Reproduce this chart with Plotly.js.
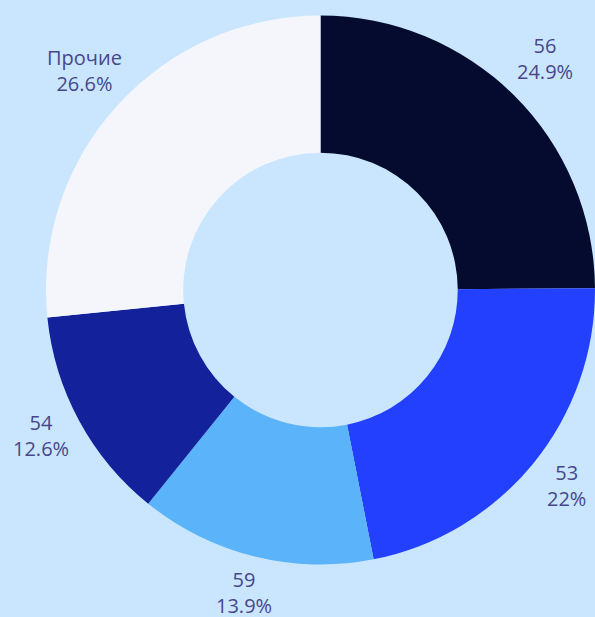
<!DOCTYPE html>
<html>
<head>
<meta charset="utf-8">
<script src="https://cdn.plot.ly/plotly-3.0.1.min.js"></script>
<style>html,body{margin:0;padding:0;background:#c9e6fe;}#chart{width:595px;height:617px;}</style>
</head>
<body>
<div id="chart"></div>
<script>
const categories = ["56", "53", "59", "54", "Прочие"];
const shares = [24.9, 22.0, 13.9, 12.6, 26.6];
const colors = ["#050b2e", "#2340ff", "#5bb3fa", "#13219b", "#f4f6fc"];

const W = 595, H = 617;
const domX = [0.0773, 1.0], domY = [0.0843, 0.9757];

const trace = {
  type: "pie",
  labels: categories,
  values: shares,
  hole: 0.5,
  sort: false,
  direction: "clockwise",
  rotation: 0,
  marker: {colors: colors, line: {width: 0}},
  textinfo: "none",
  showlegend: false,
  hoverinfo: "none",
  domain: {x: domX, y: domY}
};

// label positions derived from the slice angles
const total = shares.reduce((a, b) => a + b, 0);
const cx = (domX[0] + domX[1]) / 2, cy = (domY[0] + domY[1]) / 2;
const radiusPx = Math.min((domX[1] - domX[0]) * W, (domY[1] - domY[0]) * H) / 2;
const labelDist = radiusPx + 43.5;
const lift = 6;
let cum = 0;
const annotations = categories.map((c, i) => {
  const mid = (cum + shares[i] / 2) / total * 2 * Math.PI;
  cum += shares[i];
  const pct = +(shares[i] / total * 100).toPrecision(3);
  return {
    xref: "paper", yref: "paper",
    x: cx + labelDist * Math.sin(mid) / W,
    y: cy + (labelDist * Math.cos(mid) + lift) / H,
    xanchor: "center", yanchor: "middle",
    text: c + "<br>" + pct + "%",
    showarrow: false,
    align: "center",
    font: {family: "Open Sans, sans-serif", size: 20, color: "#48468a"}
  };
});

const layout = {
  width: W, height: H,
  margin: {l: 0, r: 0, t: 0, b: 0},
  paper_bgcolor: "#c9e6fe",
  plot_bgcolor: "#c9e6fe",
  font: {family: "Open Sans, sans-serif", color: "#48468a"},
  annotations: annotations
};
Plotly.newPlot("chart", [trace], layout, {displayModeBar: false, staticPlot: true});
</script>
</body>
</html>
